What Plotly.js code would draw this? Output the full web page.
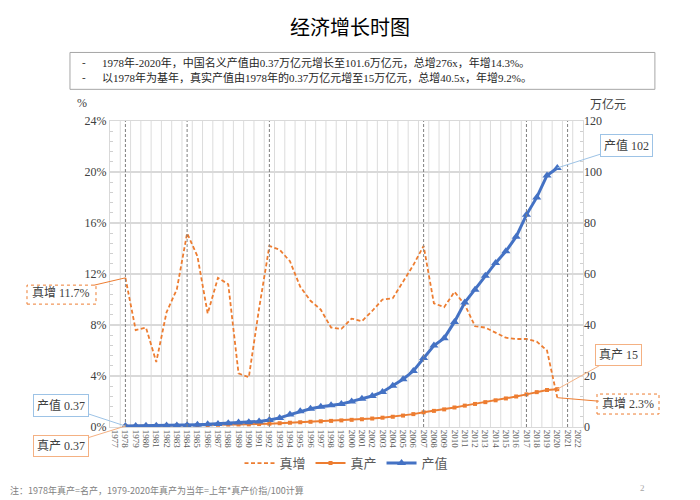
<!DOCTYPE html>
<html>
<head>
<meta charset="utf-8">
<script src="https://cdn.plot.ly/plotly-3.0.1.min.js"></script>
<style>html,body{margin:0;padding:0;background:#fff;}#chart{width:700px;height:500px;}</style>
</head>
<body>
<div id="chart"></div>
<script>
// ---- data ----
const allYears = ['1977','1978','1979','1980','1981','1982','1983','1984','1985','1986','1987','1988','1989','1990','1991','1992','1993','1994','1995','1996','1997','1998','1999','2000','2001','2002','2003','2004','2005','2006','2007','2008','2009','2010','2011','2012','2013','2014','2015','2016','2017','2018','2019','2020','2021','2022'];
const dataYears = ['1978','1979','1980','1981','1982','1983','1984','1985','1986','1987','1988','1989','1990','1991','1992','1993','1994','1995','1996','1997','1998','1999','2000','2001','2002','2003','2004','2005','2006','2007','2008','2009','2010','2011','2012','2013','2014','2015','2016','2017','2018','2019','2020'];
// 真增 (%)
const realGrowth = [11.7,7.6,7.8,5.1,9.0,10.8,15.2,13.4,8.9,11.7,11.2,4.2,3.9,9.3,14.2,13.9,13.0,11.0,9.9,9.2,7.8,7.7,8.5,8.3,9.1,10.0,10.1,11.4,12.7,14.2,9.7,9.4,10.6,9.6,7.9,7.8,7.4,7.0,6.9,6.9,6.7,6.0,2.3];
// 真产 (万亿元)
const realOutput = [0.37,0.40,0.43,0.45,0.49,0.54,0.63,0.71,0.77,0.87,0.96,1.00,1.04,1.14,1.30,1.48,1.67,1.86,2.04,2.23,2.40,2.59,2.81,3.04,3.32,3.65,4.02,4.48,5.05,5.76,6.32,6.91,7.65,8.38,9.04,9.75,10.47,11.20,11.97,12.80,13.67,14.50,14.84];
// 产值 (万亿元)
const nominalOutput = [0.37,0.41,0.46,0.49,0.54,0.60,0.73,0.91,1.04,1.22,1.51,1.72,1.89,2.20,2.72,3.57,4.86,6.13,7.18,7.97,8.52,9.06,10.03,11.09,12.17,13.74,16.18,18.73,21.94,27.01,31.92,34.85,41.21,48.79,53.86,59.30,64.36,68.89,74.64,83.20,90.03,98.65,101.60];
const markYears = ['1978','1984','1992','2007','2017','2021'];

const ORANGE = '#ED7D31', BLUE = '#4472C4';
const SERIF = 'Liberation Serif, Noto Sans CJK SC, serif';
const CJK = 'Noto Sans CJK SC, sans-serif';

const traces = [
  {x: dataYears, y: realGrowth, name: '真增', type: 'scatter', mode: 'lines', yaxis: 'y',
   line: {color: ORANGE, width: 1.8, dash: '4px,2.5px'}},
  {x: dataYears, y: realOutput, name: '真产', type: 'scatter', mode: 'lines+markers', yaxis: 'y2',
   line: {color: ORANGE, width: 2}, marker: {symbol: 'square', size: 4, color: ORANGE}},
  {x: dataYears, y: nominalOutput, name: '产值', type: 'scatter', mode: 'lines+markers', yaxis: 'y2',
   line: {color: BLUE, width: 3}, marker: {symbol: 'triangle-up', size: 8, color: BLUE}}
];

// category boundary gridlines
const shapes = allYears.slice(1).map((yr, i) => ({
  type: 'line', xref: 'x', yref: 'paper', x0: i + 0.5, x1: i + 0.5, y0: 0, y1: 1,
  line: {color: '#dcdcdc', width: 1}, layer: 'below'
}));
markYears.forEach(yr => shapes.push({
  type: 'line', xref: 'x', yref: 'paper', x0: allYears.indexOf(yr), x1: allYears.indexOf(yr), y0: 0, y1: 1,
  line: {color: '#7f7f7f', width: 1, dash: '3px,2px'}, layer: 'above'
}));
// top text box
shapes.push({type: 'rect', xref: 'paper', yref: 'paper', x0: -0.0846, x1: 1.152, y0: 1.1035, y1: 1.224,
  line: {color: '#a6a6a6', width: 1}});
// dashed callout boxes
shapes.push({type: 'rect', xref: 'paper', yref: 'paper', x0: -0.1755, x1: -0.0296, y0: 0.4016, y1: 0.4636,
  line: {color: ORANGE, width: 1, dash: 'dot'}});
shapes.push({type: 'rect', xref: 'paper', yref: 'paper', x0: 1.0296, x1: 1.1607, y0: 0.0424, y1: 0.1077,
  line: {color: ORANGE, width: 1, dash: 'dot'}});

const callFont = {family: SERIF, size: 12, color: '#404040'};
const last = dataYears.length - 1;
const i0 = allYears.indexOf(dataYears[0]);
const iL = allYears.indexOf(dataYears[last]);
const annotations = [
  {xref: 'paper', yref: 'paper', x: -0.0634, y: 1.1917, xanchor: 'left', yanchor: 'middle', showarrow: false,
   text: '-', font: {family: SERIF, size: 11, color: '#262626'}},
  {xref: 'paper', yref: 'paper', x: -0.0211, y: 1.1917, xanchor: 'left', yanchor: 'middle', showarrow: false,
   text: '1978年-2020年，中国名义产值由0.37万亿元增长至101.6万亿元，总增276x，年增14.3%。', font: {family: SERIF, size: 11, color: '#262626'}},
  {xref: 'paper', yref: 'paper', x: -0.0634, y: 1.1427, xanchor: 'left', yanchor: 'middle', showarrow: false,
   text: '-', font: {family: SERIF, size: 11, color: '#262626'}},
  {xref: 'paper', yref: 'paper', x: -0.0211, y: 1.1427, xanchor: 'left', yanchor: 'middle', showarrow: false,
   text: '以1978年为基年，真实产值由1978年的0.37万亿元增至15万亿元，总增40.5x，年增9.2%。', font: {family: SERIF, size: 11, color: '#262626'}},
  {xref: 'paper', yref: 'paper', x: -0.059, y: 1.058, xanchor: 'center', yanchor: 'middle', showarrow: false,
   text: '%', font: {family: SERIF, size: 12, color: '#404040'}},
  {xref: 'paper', yref: 'paper', x: 1.053, y: 1.058, xanchor: 'center', yanchor: 'middle', showarrow: false,
   text: '万亿元', font: {family: CJK, size: 12, color: '#404040'}},
  {xref: 'paper', yref: 'paper', x: -0.2156, y: -0.209, xanchor: 'left', yanchor: 'middle', showarrow: false,
   text: '注：1978年真产=名产，1979-2020年真产为当年=上年*真产价指/100计算', font: {family: CJK, size: 9, color: '#7f7f7f'}},
  {xref: 'paper', yref: 'paper', x: 1.125, y: -0.2, xanchor: 'center', yanchor: 'middle', showarrow: false,
   text: '2', font: {family: SERIF, size: 9, color: '#a6a6a6'}},
  // callouts
  {xref: 'x', yref: 'y', x: i0, y: realGrowth[0], ax: -64, ay: 15, text: '真增 11.7%', font: callFont,
   showarrow: true, arrowhead: 0, arrowwidth: 1, arrowcolor: ORANGE, borderpad: 3},
  {xref: 'x', yref: 'y2', x: i0, y: nominalOutput[0], ax: -64, ay: -21, text: '产值 0.37', font: callFont,
   showarrow: true, arrowhead: 0, arrowwidth: 1, arrowcolor: '#9DC3E6', bordercolor: '#9DC3E6', borderwidth: 1, borderpad: 3, bgcolor: '#fff'},
  {xref: 'x', yref: 'y2', x: i0, y: realOutput[0], ax: -64, ay: 20, text: '真产 0.37', font: callFont,
   showarrow: true, arrowhead: 0, arrowwidth: 1, arrowcolor: '#F4B183', bordercolor: '#F4B183', borderwidth: 1, borderpad: 3, bgcolor: '#fff'},
  {xref: 'x', yref: 'y2', x: iL, y: nominalOutput[last], ax: 69, ay: -22, text: '产值 102', font: callFont,
   showarrow: true, arrowhead: 0, arrowwidth: 1, arrowcolor: '#9DC3E6', bordercolor: '#9DC3E6', borderwidth: 1, borderpad: 3, bgcolor: '#fff'},
  {xref: 'x', yref: 'y2', x: iL, y: realOutput[last], ax: 61, ay: -34, text: '真产 15', font: callFont,
   showarrow: true, arrowhead: 0, arrowwidth: 1, arrowcolor: '#F4B183', bordercolor: '#F4B183', borderwidth: 1, borderpad: 3, bgcolor: '#fff'},
  {xref: 'x', yref: 'y', x: iL, y: realGrowth[last], ax: 71, ay: 6, text: '真增 2.3%', font: callFont,
   showarrow: true, arrowhead: 0, arrowwidth: 1, arrowcolor: ORANGE, borderpad: 3}
];

const layout = {
  width: 700, height: 500,
  margin: {l: 110, r: 117, t: 121, b: 73},
  paper_bgcolor: '#fff', plot_bgcolor: '#fff',
  title: {text: '经济增长时图', x: 0.5, xanchor: 'center', y: 0.944, yanchor: 'middle',
          font: {family: CJK, size: 20, color: '#000'}},
  showlegend: true,
  legend: {orientation: 'h', x: 0.5, xanchor: 'center', y: -0.118, yanchor: 'middle',
           font: {family: CJK, size: 13, color: '#595959'}},
  xaxis: {type: 'category', categoryorder: 'array', categoryarray: allYears, range: [-0.5, allYears.length - 0.5],
          tickmode: 'linear', tick0: 0, dtick: 1,
          showgrid: false, ticks: '', tickangle: 90, tickfont: {family: SERIF, size: 9, color: '#595959'},
          showline: true, linecolor: '#d9d9d9', linewidth: 1, mirror: true, zeroline: false},
  yaxis: {range: [0, 24], tickmode: 'linear', tick0: 0, dtick: 4, ticksuffix: '%',
          showgrid: true, gridcolor: '#d9d9d9', gridwidth: 1.5, zeroline: false,
          tickfont: {family: SERIF, size: 12, color: '#404040'}, ticks: '',
          showline: true, linecolor: '#d9d9d9', linewidth: 1, mirror: true,
          minor: {ticks: 'inside', ticklen: 3, dtick: 0.8, tickcolor: '#d0d0d0', showgrid: false}},
  yaxis2: {range: [0, 120], tickmode: 'linear', tick0: 0, dtick: 20, overlaying: 'y', side: 'right', showgrid: false, zeroline: false,
           tickfont: {family: SERIF, size: 12, color: '#404040'}, ticks: '',
           minor: {ticks: 'inside', ticklen: 3, dtick: 4, tickcolor: '#d0d0d0', showgrid: false}},
  shapes: shapes,
  annotations: annotations
};

Plotly.newPlot('chart', traces, layout, {displayModeBar: false, staticPlot: true});
</script>
</body>
</html>
